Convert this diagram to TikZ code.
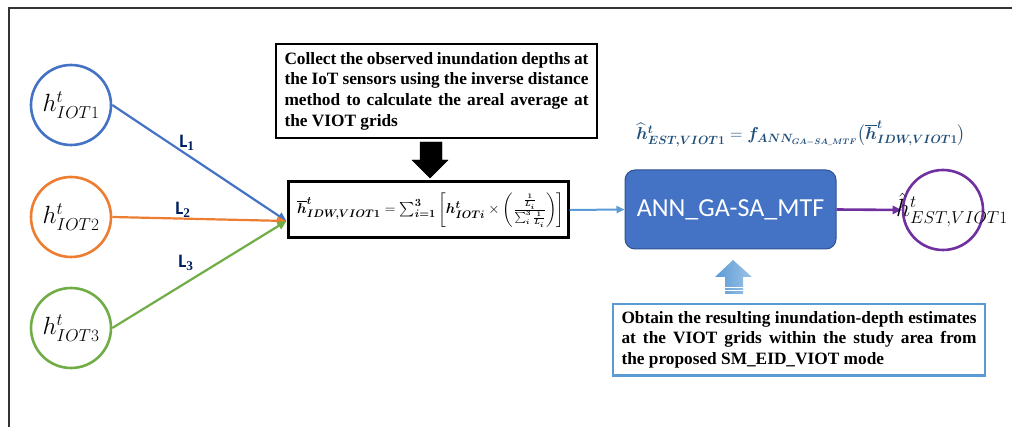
\documentclass[tikz,border=0pt]{standalone}
\usepackage{amsmath,bm}
\usepackage{fontspec}
\setmainfont{Liberation Serif}
\newfontfamily\calibri{Carlito}
\usetikzlibrary{arrows.meta}
\definecolor{cblue}{RGB}{68,114,196}
\definecolor{corange}{RGB}{237,125,49}
\definecolor{cgreen}{RGB}{112,173,71}
\definecolor{cpurple}{RGB}{112,48,160}
\definecolor{clight}{RGB}{91,155,213}
\definecolor{clighter}{RGB}{157,195,230}
\definecolor{cnavy}{RGB}{0,32,96}
\definecolor{cdark}{RGB}{31,78,121}
\definecolor{cborder}{RGB}{47,82,143}
\newcommand{\nohyph}{\hyphenpenalty=10000\relax\exhyphenpenalty=10000\relax}
\begin{document}
\begin{tikzpicture}[x=1pt,y=-1pt,
  sensor/.style={circle, draw, line width=2.6pt, minimum size=80pt, inner sep=0pt, font=\fontsize{25}{28}\selectfont},
  linkarrow/.style={line width=2.2pt, -{Triangle[length=9pt,width=8pt]}},
  notebox/.style={draw, line width=2.5pt, text width=304pt, align=justify, inner xsep=8.5pt, inner ysep=8pt, font=\bfseries\fontsize{17.3}{20.7}\selectfont\nohyph},
  elabel/.style={font=\calibri\bfseries\fontsize{19}{21}\selectfont, text=cnavy},
  annbox/.style={draw=cborder, line width=1pt, fill=cblue, rounded corners=10pt, minimum width=211pt, minimum height=79pt, text=white, font=\calibri\fontsize{26}{29}\selectfont}
]
\useasboundingbox (0,0) rectangle (1012,427);
\draw[line width=2pt, black!80] (9,427) -- (9,8) -- (1012,8);

% sensors
\node[sensor, draw=cblue] (c1) at (71,105) {$h^t_{IOT1}$};
\node[sensor, draw=corange] (c2) at (71,217) {$h^t_{IOT2}$};
\node[sensor, draw=cgreen] (c3) at (71,328) {$h^t_{IOT3}$};

% top note
\node[notebox, anchor=north] (note) at (436.5,43) {Collect the observed inundation depths at\linebreak the IoT sensors using the inverse distance\linebreak method to calculate the areal average at\linebreak the VIOT grids};

% formula box
\node[draw, line width=3pt, minimum width=280pt, minimum height=56pt, inner sep=0pt] (fbox) at (428,210) {};
\node[inner sep=0pt, anchor=west, font=\fontsize{15}{17}\selectfont] (fml) at (297,210)
  {$\overline{\bm h}^{\bm t}_{\bm{IDW,VIOT1}} = \sum_{\bm{i=1}}^{\bm 3}\left[\bm h^{\bm t}_{\bm{IOTi}} \times \left(\frac{\frac{\bm 1}{\bm{L_i}}}{\sum_{\bm i}^{\bm 3}\frac{\bm 1}{\bm{L_i}}}\right)\right]$};

% block arrow down
\draw[fill=black] (420,142) -- (442,142) -- (442,160) -- (448,160) -- (430,178) -- (412,160) -- (420,160) -- cycle;

% links
\draw[linkarrow, cblue] (c1.east) -- ([yshift=-11pt]fbox.west);
\draw[linkarrow, corange] (c2.east) -- ([yshift=-11pt]fbox.west);
\draw[linkarrow, cgreen] (c3.east) -- ([yshift=-11pt]fbox.west);
\node[elabel] (l1) at (187,143) {L$_{\mathbf 1}$};
\node[elabel] (l2) at (183,210) {L$_{\mathbf 2}$};
\node[elabel] (l3) at (186,263) {L$_{\mathbf 3}$};

% ANN
\node[annbox] (ann) at (730.5,209.5) {ANN\_GA-SA\_MTF};
\draw[line width=2pt, clight, -{Triangle[length=8pt,width=7pt]}] (fbox.east) -- (ann.west);

% estimate formula
\node[text=cdark, font=\fontsize{17}{20}\selectfont, inner sep=0pt] (est) at (801,134)
  {$\widehat{\bm h}^{\bm t}_{\bm{EST,VIOT1}} = \bm f_{\bm{ANN_{GA-SA\_MTF}}}\bigl(\overline{\bm h}^{\bm t}_{\bm{IDW,VIOT1}}\bigr)$};

% output circle
\node[circle, draw=cpurple, line width=2.6pt, minimum size=80pt, inner sep=0pt] (out) at (943,210) {};
\draw[line width=2.6pt, cpurple, -{Triangle[length=9pt,width=8pt]}] (ann.east) -- (out.west);
\node[inner sep=0pt, anchor=west, font=\fontsize{23}{26}\selectfont] (outl) at (896,210) {$\hat h^t_{EST,VIOT1}$};

% up block arrow
\shade[left color=clight, right color=clighter] (733,260) -- (752,277) -- (743,277) -- (743,294) -- (725,294) -- (725,277) -- (715,277) -- cycle;
\draw[white, line width=0.8pt] (725,287) -- (743,287) (725,290.5) -- (743,290.5);

% bottom note
\node[notebox, anchor=north, draw=clight, line width=2.5pt, text width=355pt, inner ysep=7pt] (res) at (799,303) {Obtain the resulting inundation-depth estimates\linebreak at the VIOT grids within the study area from\linebreak the proposed SM\_EID\_VIOT mode};
\end{tikzpicture}
\end{document}
